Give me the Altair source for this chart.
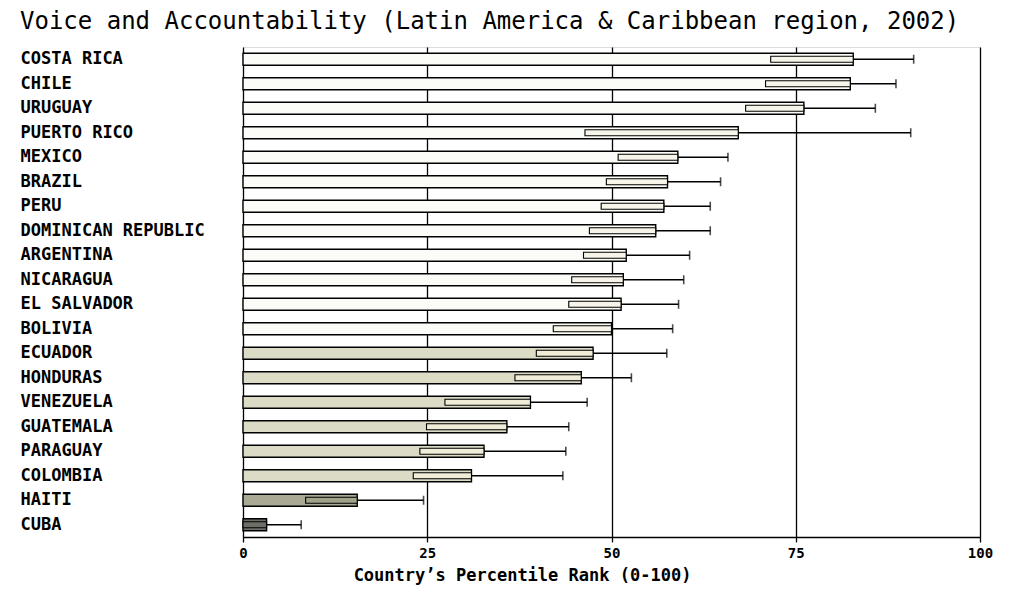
import altair as alt
import pandas as pd

countries = ["COSTA RICA", "CHILE", "URUGUAY", "PUERTO RICO", "MEXICO", "BRAZIL",
             "PERU", "DOMINICAN REPUBLIC", "ARGENTINA", "NICARAGUA", "EL SALVADOR",
             "BOLIVIA", "ECUADOR", "HONDURAS", "VENEZUELA", "GUATEMALA", "PARAGUAY",
             "COLOMBIA", "HAITI", "CUBA"]
rank = [82.8, 82.4, 76.1, 67.2, 59.0, 57.6, 57.1, 56.0, 52.0, 51.6, 51.3, 50.0,
        47.5, 45.9, 39.0, 35.8, 32.7, 31.0, 15.5, 3.2]
lower = [71.6, 70.9, 68.2, 46.4, 50.9, 49.3, 48.6, 47.0, 46.2, 44.6, 44.2, 42.1,
         39.8, 36.9, 27.4, 24.9, 24.0, 23.1, 8.5, 0.0]
upper = [91.0, 88.6, 85.8, 90.6, 65.8, 64.8, 63.4, 63.4, 60.6, 59.8, 59.1, 58.3,
         57.5, 52.7, 46.7, 44.2, 43.8, 43.4, 24.5, 7.9]
x_ticks = [0, 25, 50, 75, 100]


def band(v):
    if v >= 50:
        return "50-100"
    if v >= 25:
        return "25-50"
    if v >= 10:
        return "10-25"
    return "0-10"


df = pd.DataFrame({"country": countries, "rank": rank, "lo": lower, "hi": upper})
df["cls"] = [band(v) for v in rank]

cls_domain = ["50-100", "25-50", "10-25", "0-10"]
bar_colors = ["#fbfbf7", "#dbdbc6", "#a9a994", "#6e6e68"]
box_colors = ["#f7f5ea", "#efecd7", "#a3a38b", "#6e6e68"]

MONO = "DejaVu Sans Mono"

y_enc = alt.Y("country:N", sort=countries,
              scale=alt.Scale(paddingInner=0, paddingOuter=0),
              axis=alt.Axis(title=None, ticks=False, domain=False,
                            labelAlign="left", labelPadding=223, labelLimit=230,
                            labelFont=MONO, labelFontSize=17, labelFontWeight="bold",
                            labelColor="black"))
x_scale = alt.Scale(domain=[0, 100], nice=False, zero=True)

base = alt.Chart(df)

bars = base.mark_bar(size=12, stroke="black", strokeWidth=1.4).encode(
    y=y_enc,
    x=alt.X("rank:Q", scale=x_scale,
            axis=alt.Axis(values=x_ticks, grid=True, gridColor="black", gridWidth=1.3,
                          gridOpacity=1, domainColor="black", domainWidth=1.4,
                          tickColor="black", tickSize=5, tickWidth=1.3,
                          labelFlush=False,
                          labelFont=MONO, labelFontSize=14, labelFontWeight="bold",
                          labelColor="black", labelPadding=4,
                          title="Country\u2019s Percentile Rank (0-100)",
                          titleFont=MONO, titleFontSize=17, titleFontWeight="bold",
                          titleColor="black", titleX=279, titleAlign="center",
                          titlePadding=7)),
    fill=alt.Fill("cls:N", scale=alt.Scale(domain=cls_domain, range=bar_colors),
                  legend=None),
)

boxes = base.mark_bar(size=6, stroke="black", strokeWidth=1.1).encode(
    y=alt.Y("country:N", sort=countries),
    x=alt.X("lo:Q", scale=x_scale),
    x2="rank:Q",
    fill=alt.Fill("cls:N", scale=alt.Scale(domain=cls_domain, range=box_colors),
                  legend=None),
)

whisk = base.mark_rule(color="black", strokeWidth=1.3).encode(
    y=alt.Y("country:N", sort=countries),
    x=alt.X("rank:Q", scale=x_scale),
    x2="hi:Q",
)

caps = base.mark_tick(color="black", orient="vertical", size=9, thickness=1.6).encode(
    y=alt.Y("country:N", sort=countries),
    x=alt.X("hi:Q", scale=x_scale),
)

chart = alt.layer(bars, boxes, whisk, caps).resolve_scale(fill="independent").properties(
    width=737,
    height=490,
    autosize=alt.AutoSizeParams(type="none"),
    padding={"left": 235, "top": 39, "right": 30, "bottom": 50},
    title=alt.TitleParams(
        "Voice and Accountability (Latin America & Caribbean region, 2002)",
        anchor="start", frame="group", dx=-223, offset=13, limit=1000,
        font=MONO, fontSize=24, fontWeight="normal", color="black",
    ),
).configure_view(stroke="black", strokeWidth=1.4).configure(background="white")

chart.save("out.html", embed_options={"renderer": "svg", "actions": False})
